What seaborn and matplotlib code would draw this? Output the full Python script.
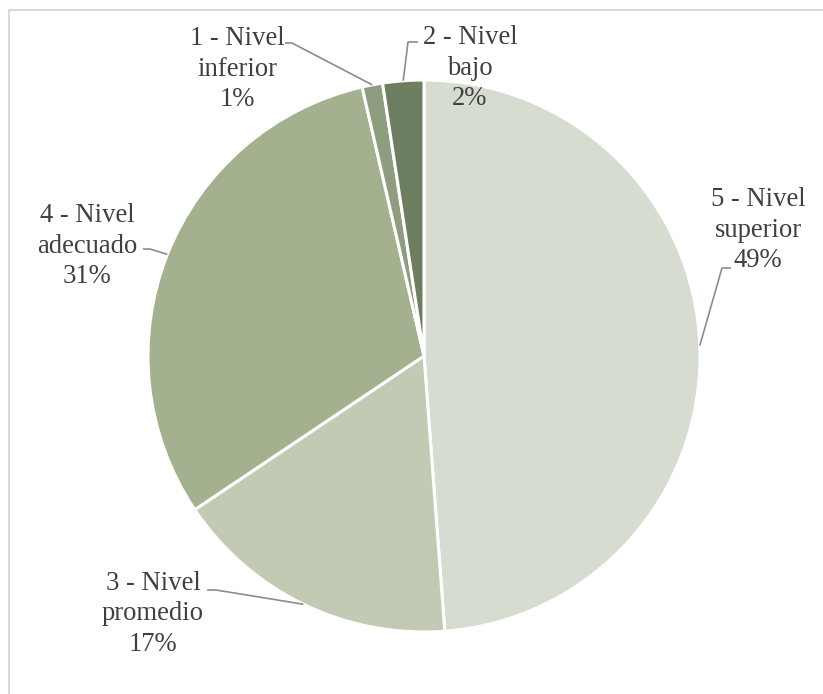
import numpy as np
import matplotlib
matplotlib.use("Agg")
import matplotlib.pyplot as plt
import seaborn as sns
from matplotlib.lines import Line2D

sns.set_theme(style="white")
plt.rcParams["font.family"] = ["Liberation Serif", "DejaVu Serif"]

# Share of respondents per level, clockwise from 12 o'clock
categories = ["5 - Nivel\nsuperior", "3 - Nivel\npromedio", "4 - Nivel\nadecuado",
              "1 - Nivel\ninferior", "2 - Nivel\nbajo"]
shares = [48.8, 16.8, 30.8, 1.2, 2.4]
colors = ["#d6ddd0", "#c2cab4", "#a4b18f", "#8e9d7e", "#6e7e61"]

W, H = 823, 694
fig = plt.figure(figsize=(W / 100, H / 100), dpi=100)
ax = fig.add_axes([0, 0, 1, 1])

cx, cy, r = 424, H - 356, 276
wedges, _ = ax.pie(shares, colors=colors, startangle=90, counterclock=False,
                   center=(cx, cy), radius=r, frame=True,
                   wedgeprops=dict(edgecolor="white", linewidth=2.2))
ax.set_xlim(0, W)
ax.set_ylim(0, H)
ax.set_aspect("equal")
ax.axis("off")

# label block centre, elbow of the leader line, end next to the text (pixel coords from top)
label_layout = [
    ((758, 230), (722, 268), (731, 268)),
    ((153, 614), (216, 590), (207, 590)),
    ((87, 246), (150, 249), (143, 249)),
    ((237, 69), (292, 43), (285, 43)),
    ((470, 68), (408, 42), (418, 42)),
]

for wedge, name, val, (txt, elbow, tail) in zip(wedges, categories, shares, label_layout):
    mid = np.deg2rad((wedge.theta1 + wedge.theta2) / 2)
    ex, ey = cx + r * np.cos(mid), cy + r * np.sin(mid)
    ax.plot([ex, elbow[0], tail[0]], [ey, H - elbow[1], H - tail[1]],
            color="#8c8c8c", lw=1.2, solid_capstyle="butt", zorder=3)
    ax.text(txt[0], H - txt[1], f"{name}\n{round(val):d}%", ha="center", va="center",
            fontsize=19.2, color="#404040", linespacing=1.3, zorder=4)

# light chart-area border (top and left)
fig.add_artist(Line2D([9 / W, 1], [1 - 10 / H, 1 - 10 / H], transform=fig.transFigure,
                      color="#d9d9d9", lw=1.5))
fig.add_artist(Line2D([9 / W, 9 / W], [0, 1 - 10 / H], transform=fig.transFigure,
                      color="#d9d9d9", lw=1.5))

fig.savefig("out.png", dpi=100, facecolor="white")
